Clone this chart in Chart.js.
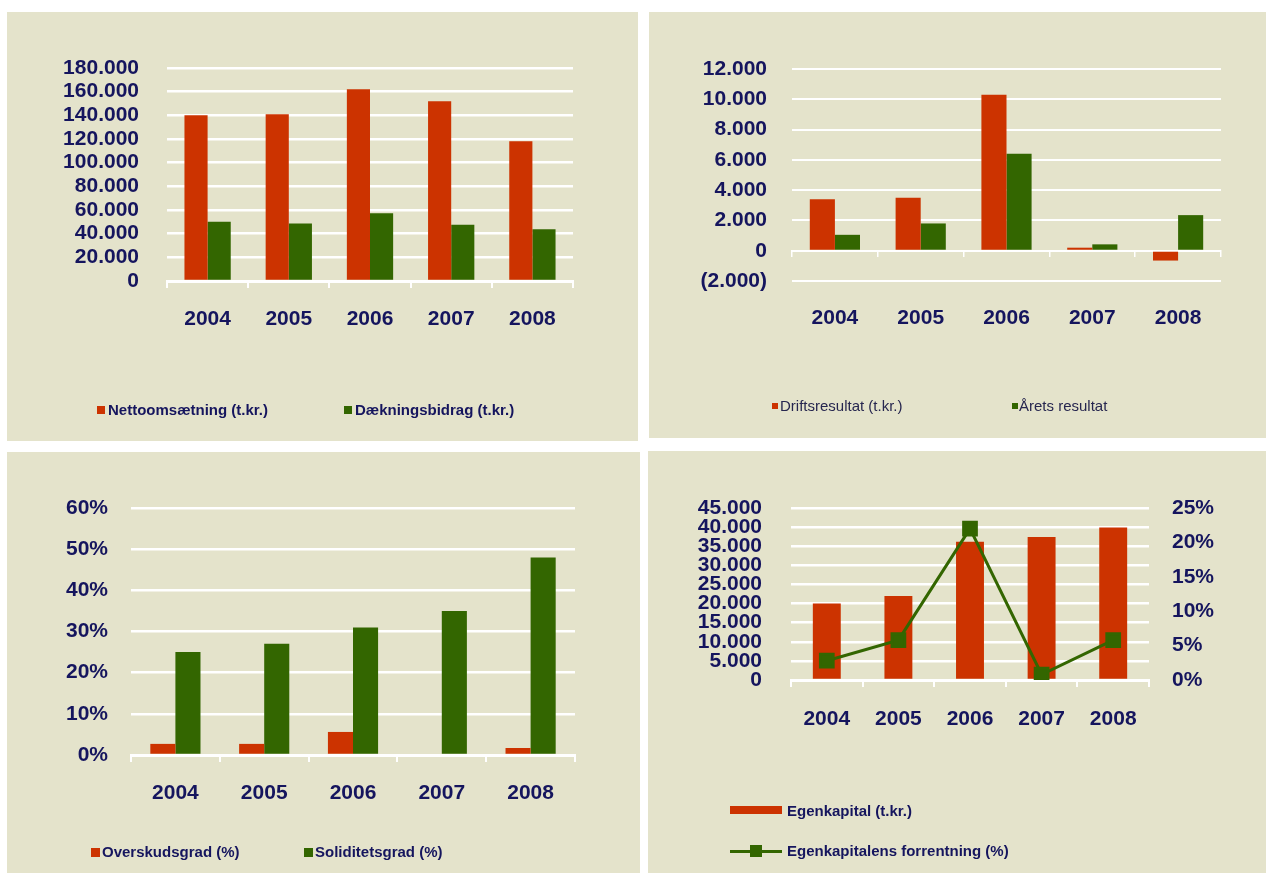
<!DOCTYPE html>
<html>
<head>
<meta charset="utf-8">
<script src="https://cdn.jsdelivr.net/npm/chart.js@4.4.1/dist/chart.umd.min.js"></script>
<style>
  body { margin: 0; background: #fff; width: 1266px; height: 873px; position: relative; overflow: hidden;
         font-family: 'Liberation Sans', Arial, sans-serif; }
  .panel { position: absolute; background: #e4e3cb; }
  .panel canvas { position: absolute; left: 0; top: 0; }
  .lg { position: absolute; font-size: 15px; font-weight: bold; color: #15155e; white-space: nowrap; line-height: 18px; }
  .lg.thin { font-weight: normal; color: #26264f; }
  .sw { position: absolute; }
</style>
</head>
<body>

<div class="panel" style="left:7px;top:12px;width:631px;height:429px"><canvas id="c1" width="631" height="429"></canvas></div>
<div class="panel" style="left:649px;top:12px;width:617px;height:426px"><canvas id="c2" width="617" height="426"></canvas></div>
<div class="panel" style="left:7px;top:452px;width:633px;height:421px"><canvas id="c3" width="633" height="421"></canvas></div>
<div class="panel" style="left:648px;top:451px;width:618px;height:422px"><canvas id="c4" width="618" height="422"></canvas></div>

<!-- legends -->
<div class="sw" style="left:97px;top:406px;width:8px;height:8px;background:#cc3300"></div>
<div class="lg" style="left:108px;top:401px">Nettoomsætning (t.kr.)</div>
<div class="sw" style="left:344px;top:406px;width:8px;height:8px;background:#336600"></div>
<div class="lg" style="left:355px;top:401px">Dækningsbidrag (t.kr.)</div>

<div class="sw" style="left:772px;top:403px;width:6px;height:6px;background:#cc3300"></div>
<div class="lg thin" style="left:780px;top:397px">Driftsresultat (t.kr.)</div>
<div class="sw" style="left:1012px;top:403px;width:6px;height:6px;background:#336600"></div>
<div class="lg thin" style="left:1019px;top:397px">Årets resultat</div>

<div class="sw" style="left:91px;top:848px;width:9px;height:9px;background:#cc3300"></div>
<div class="lg" style="left:102px;top:843px">Overskudsgrad (%)</div>
<div class="sw" style="left:304px;top:848px;width:9px;height:9px;background:#336600"></div>
<div class="lg" style="left:315px;top:843px">Soliditetsgrad (%)</div>

<div class="sw" style="left:730px;top:806px;width:52px;height:8px;background:#cc3300"></div>
<div class="lg" style="left:787px;top:802px">Egenkapital (t.kr.)</div>
<div class="sw" style="left:730px;top:850px;width:52px;height:3px;background:#336600"></div>
<div class="sw" style="left:750px;top:845px;width:12px;height:12px;background:#336600"></div>
<div class="lg" style="left:787px;top:842px">Egenkapitalens forrentning (%)</div>

<script>
const years = ['2004', '2005', '2006', '2007', '2008'];

// omsætning / dækningsbidrag (t.kr.)
const nettoomsaetning = [140000, 141000, 162000, 152000, 118000];
const daekningsbidrag = [50000, 48500, 57300, 47500, 43800];
const omsAxis = [0, 180000, 20000];

// resultat (t.kr.)
const driftsresultat = [3400, 3500, 10300, 200, -650];
const aretsResultat = [1050, 1800, 6400, 420, 2350];
const resAxis = [-2000, 12000, 2000];

// nøgletal i %
const overskudsgrad = [2.7, 2.7, 5.6, 0, 1.7];
const soliditetsgrad = [25, 27, 31, 35, 48];
const pctAxis = [0, 60, 10];

// egenkapital og forrentning
const egenkapital = [20000, 22000, 36200, 37400, 39900];
const forrentning = [2.8, 5.8, 22, 0.8, 5.8];
const ekAxis = [0, 45000, 5000];
const forrAxis = [0, 25, 5];

const RED = '#cc3300';
const GREEN = '#336600';
const NAVY = '#15155e';
const FONT = "'Liberation Sans', Arial, sans-serif";

// tusindtalsseparator med punktum, negative tal i parentes
function fmt(v) {
  if (v < 0) return '(' + fmt(-v) + ')';
  return String(v).replace(/\B(?=(\d{3})+(?!\d))/g, '.');
}

function xAxis(tickLen, pad) {
  return {
    grid: { display: tickLen > 0, drawOnChartArea: false, color: '#fff', lineWidth: 2, tickLength: tickLen },
    border: { display: tickLen > 0, color: '#fff', width: 3 },
    ticks: { color: NAVY, font: { family: FONT, size: 21, weight: 'bold' }, padding: pad, maxRotation: 0, autoSkip: false },
    afterFit: s => { s.height = 60; }
  };
}

function yAxis(range, width, pad, cb, lw) {
  return {
    min: range[0], max: range[1],
    ticks: { stepSize: range[2], color: NAVY, font: { family: FONT, size: 21, weight: 'bold', lineHeight: 1 },
             padding: pad, autoSkip: false, callback: cb },
    grid: { color: '#fff', lineWidth: lw || 2.5, drawTicks: false },
    border: { display: false },
    afterFit: s => { s.width = width; }
  };
}

function baseOptions(padding, scales) {
  return {
    responsive: false,
    animation: false,
    layout: { padding },
    plugins: { legend: { display: false }, tooltip: { enabled: false } },
    scales
  };
}

// 1: omsætning
new Chart(document.getElementById('c1'), {
  type: 'bar',
  data: {
    labels: years,
    datasets: [
      { data: nettoomsaetning, backgroundColor: RED, categoryPercentage: 0.57, barPercentage: 1 },
      { data: daekningsbidrag, backgroundColor: GREEN, categoryPercentage: 0.57, barPercentage: 1 }
    ]
  },
  options: baseOptions({ left: 0, top: 56, right: 65, bottom: 100 }, {
    x: xAxis(7, 19),
    y: yAxis(omsAxis, 160, 28, v => fmt(v))
  })
});

// 2: resultat
const opt2 = baseOptions({ left: 0, top: 57, right: 45, bottom: 97 }, {
  x: xAxis(0, 25),
  x2: {
    axis: 'x', type: 'category', position: { y: 0 }, offset: true,
    grid: { offset: true, drawOnChartArea: false, color: '#fff', lineWidth: 1.5, tickLength: 5 },
    border: { color: '#fff', width: 2 },
    ticks: { display: false }
  },
  y: yAxis(resAxis, 143, 25, v => fmt(v), 2)
});
new Chart(document.getElementById('c2'), {
  type: 'bar',
  data: {
    labels: years,
    datasets: [
      { data: driftsresultat, backgroundColor: RED, categoryPercentage: 0.585, barPercentage: 1 },
      { data: aretsResultat, backgroundColor: GREEN, categoryPercentage: 0.585, barPercentage: 1 }
    ]
  },
  options: opt2
});

// 3: overskuds- og soliditetsgrad
new Chart(document.getElementById('c3'), {
  type: 'bar',
  data: {
    labels: years,
    datasets: [
      { data: overskudsgrad, backgroundColor: RED, categoryPercentage: 0.565, barPercentage: 1 },
      { data: soliditetsgrad, backgroundColor: GREEN, categoryPercentage: 0.565, barPercentage: 1 }
    ]
  },
  options: baseOptions({ left: 0, top: 56, right: 65, bottom: 58 }, {
    x: xAxis(7, 19),
    y: yAxis(pctAxis, 124, 23, v => v + '%')
  })
});

// 4: egenkapital + forrentning
const y1 = yAxis(forrAxis, 80, 23, v => v + '%');
y1.position = 'right';
y1.grid = { drawOnChartArea: false, drawTicks: false };
new Chart(document.getElementById('c4'), {
  type: 'bar',
  data: {
    labels: years,
    datasets: [
      { type: 'line', data: forrentning, yAxisID: 'y1', order: 0, borderColor: GREEN, borderWidth: 3,
        pointStyle: 'rect', pointRadius: 9, pointBackgroundColor: GREEN, pointBorderColor: GREEN },
      { data: egenkapital, backgroundColor: RED, order: 1, categoryPercentage: 0.39, barPercentage: 1 }
    ]
  },
  options: baseOptions({ left: 0, top: 57, right: 37, bottom: 133 }, {
    x: xAxis(7, 20),
    y: yAxis(ekAxis, 143, 29, v => fmt(v)),
    y1
  })
});
</script>
</body>
</html>
